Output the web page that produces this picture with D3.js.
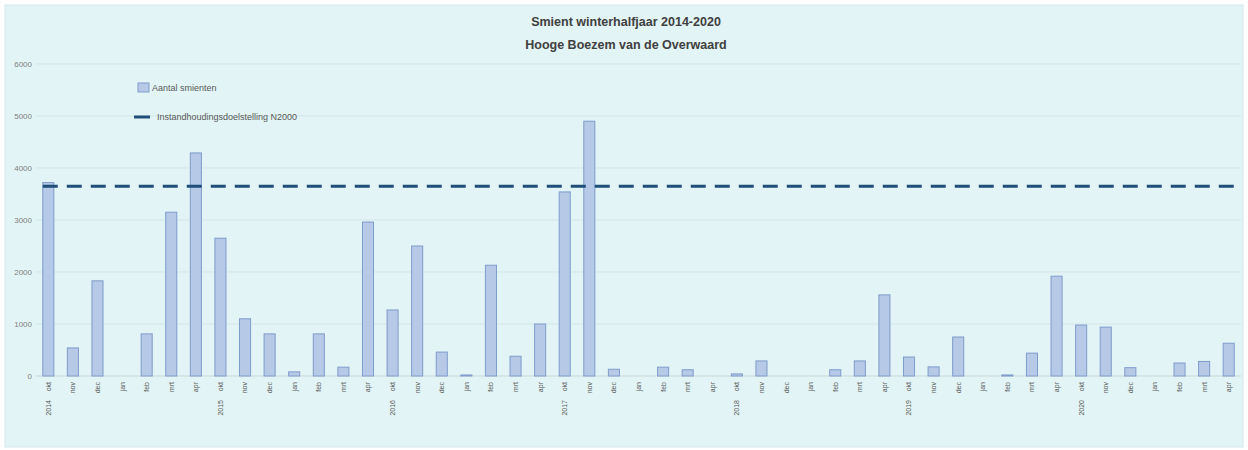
<!DOCTYPE html>
<html>
<head>
<meta charset="utf-8">
<script src="https://cdn.jsdelivr.net/npm/d3@7"></script>
<style>
  body { margin: 0; background: #ffffff; }
  text { font-family: "Liberation Sans", Arial, sans-serif; }
</style>
</head>
<body>
<div id="chart"></div>
<script>
// Data
const years = ['2014', '2015', '2016', '2017', '2018', '2019', '2020'];
const months = ['okt', 'nov', 'dec', 'jan', 'feb', 'mrt', 'apr'];
const counts = [
  3720, 540, 1830, 0, 810, 3150, 4290,
  2650, 1100, 810, 80, 810, 170, 2960,
  1270, 2500, 460, 20, 2130, 380, 1000,
  3540, 4900, 130, 0, 170, 120, 0,
  40, 290, 0, 0, 120, 290, 1560,
  365, 175, 750, 0, 20, 440, 1920,
  980, 940, 160, 0, 250, 280, 630
];
const target = 3650;
const yTicks = [0, 1000, 2000, 3000, 4000, 5000, 6000];

const categories = [];
years.forEach(y => months.forEach(m => categories.push({key: y + '-' + m, year: y, month: m})));

const config = {
  width: 1248,
  height: 450,
  margin: {top: 64, right: 7, bottom: 74, left: 36}
};

const svg = d3.select('#chart').append('svg')
    .attr('width', config.width)
    .attr('height', config.height);

// chart background
svg.append('rect')
    .attr('x', 5).attr('y', 5)
    .attr('width', config.width - 10).attr('height', config.height - 8)
    .attr('fill', '#e2f4f5')
    .attr('stroke', '#d6e9ea');

const x = d3.scaleBand()
    .domain(categories.map(d => d.key))
    .range([config.margin.left, config.width - config.margin.right])
    .paddingInner(0.55)
    .paddingOuter(0.275);

const y = d3.scaleLinear()
    .domain([0, 6000])
    .range([config.height - config.margin.bottom, config.margin.top]);

// gridlines
svg.append('g')
  .selectAll('line')
  .data(yTicks)
  .join('line')
    .attr('x1', config.margin.left)
    .attr('x2', config.width - config.margin.right)
    .attr('y1', d => y(d))
    .attr('y2', d => y(d))
    .attr('stroke', d => d === 0 ? '#c9d7d9' : '#d3e6e7')
    .attr('stroke-width', 1);

// y axis labels
const yAxis = svg.append('g')
    .attr('transform', `translate(${config.margin.left - 4},0)`)
    .call(d3.axisLeft(y).tickValues(yTicks).tickSize(0).tickPadding(0).tickFormat(d3.format('d')));
yAxis.select('.domain').remove();
yAxis.selectAll('text')
    .attr('fill', '#7f7f7f')
    .attr('font-size', 8);

// bars
svg.append('g')
  .selectAll('rect')
  .data(categories)
  .join('rect')
    .attr('x', d => x(d.key))
    .attr('y', (d, i) => y(counts[i]))
    .attr('width', x.bandwidth())
    .attr('height', (d, i) => y(0) - y(counts[i]))
    .attr('fill', '#b6c9e6')
    .attr('stroke', '#7f9ccc')
    .attr('stroke-width', 1);

// target line
svg.append('line')
    .attr('x1', x(categories[0].key))
    .attr('x2', x(categories[categories.length - 1].key) + x.bandwidth())
    .attr('y1', y(target))
    .attr('y2', y(target))
    .attr('stroke', '#1f4e79')
    .attr('stroke-width', 3)
    .attr('stroke-dasharray', '15,9');

// x axis labels
const xAxis = svg.append('g')
    .attr('transform', `translate(0,${y(0)})`)
    .call(d3.axisBottom(x).tickSize(0).tickPadding(0).tickFormat(k => k.split('-')[1]));
xAxis.select('.domain').remove();
xAxis.selectAll('text')
    .attr('fill', '#595959')
    .attr('font-size', 7)
    .attr('text-anchor', 'end')
    .attr('transform', 'translate(0,6) rotate(-90)')
    .attr('dy', '0.35em')
    .attr('x', 0).attr('y', 0);

// year labels under the first month of each group
svg.append('g')
  .selectAll('text')
  .data(categories.filter(d => d.month === months[0]))
  .join('text')
    .attr('transform', d => `translate(${x(d.key) + x.bandwidth() / 2},${y(0) + 24}) rotate(-90)`)
    .attr('text-anchor', 'end')
    .attr('dy', '0.35em')
    .attr('fill', '#595959')
    .attr('font-size', 7)
    .text(d => d.year);

// title
const title = svg.append('g')
    .attr('text-anchor', 'middle')
    .attr('font-weight', 'bold')
    .attr('font-size', 12.5)
    .attr('fill', '#404040');
title.append('text').attr('x', 626).attr('y', 26).text('Smient winterhalfjaar 2014-2020');
title.append('text').attr('x', 626).attr('y', 49).text('Hooge Boezem van de Overwaard');

// legend
const legend = svg.append('g');
legend.append('rect')
    .attr('x', 138).attr('y', 83)
    .attr('width', 11).attr('height', 9)
    .attr('fill', '#b6c9e6')
    .attr('stroke', '#7f9ccc');
legend.append('text')
    .attr('x', 152).attr('y', 88)
    .attr('dy', '0.35em')
    .attr('font-size', 9)
    .attr('fill', '#595959')
    .text('Aantal smienten');
legend.append('line')
    .attr('x1', 134).attr('x2', 150)
    .attr('y1', 117).attr('y2', 117)
    .attr('stroke', '#1f4e79')
    .attr('stroke-width', 3);
legend.append('text')
    .attr('x', 157).attr('y', 117)
    .attr('dy', '0.35em')
    .attr('font-size', 9)
    .attr('fill', '#595959')
    .text('Instandhoudingsdoelstelling N2000');
</script>
</body>
</html>
